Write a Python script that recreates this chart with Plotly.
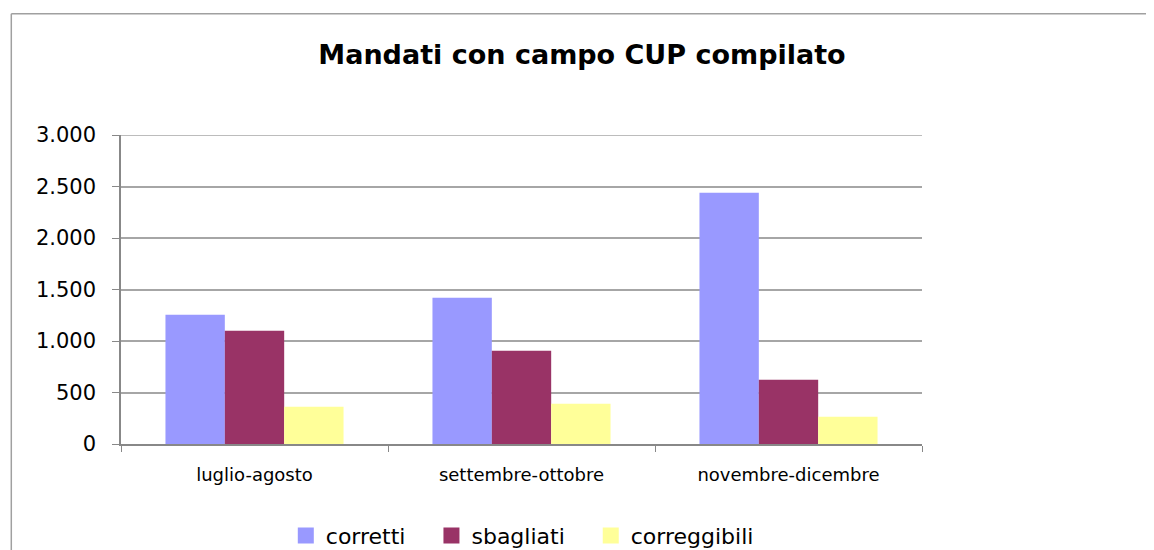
import plotly.graph_objects as go

categories = ["luglio-agosto", "settembre-ottobre", "novembre-dicembre"]
corretti = [1255, 1420, 2440]
sbagliati = [1100, 906, 624]
correggibili = [362, 391, 265]
y_ticks = [0, 500, 1000, 1500, 2000, 2500, 3000]
y_tick_labels = ["0", "500", "1.000", "1.500", "2.000", "2.500", "3.000"]

series_names = ["corretti", "sbagliati", "correggibili"]
series_values = [corretti, sbagliati, correggibili]
series_colors = ["#9999FF", "#993366", "#FFFF99"]

OFF = 8  # page body margin
W, H = 1154 - OFF, 550 - OFF
L, R, T, B = 120.7, 921.7, 135.3, 444.3  # target pixel positions in the window

FONT = "DejaVu Sans"
PAD = "\u00a0" * 3  # extra spacing between legend entries

fig = go.Figure()
for name, vals, col in zip(series_names, series_values, series_colors):
    fig.add_bar(name=name, x=categories, y=vals, marker_color=col, marker_line_width=0,
                showlegend=False)
# legend entries with larger square swatches
for i, (name, col) in enumerate(zip(series_names, series_colors)):
    label = name + (PAD if i < len(series_names) - 1 else "")
    fig.add_scatter(name=label, x=[None], y=[None], mode="markers",
                    marker=dict(symbol="square", size=16, color=col, line_width=0),
                    showlegend=True)

def px2x(px):
    return (px - L) / (R - L)

def py2y(py):
    return (B - py) / (B - T)

# outer chart frame (top and left edges visible)
fig.add_shape(type="line", xref="paper", yref="paper", x0=px2x(11), x1=px2x(1170),
              y0=py2y(14), y1=py2y(14), line=dict(color="#A0A0A0", width=1.5))
fig.add_shape(type="line", xref="paper", yref="paper", x0=px2x(11), x1=px2x(11),
              y0=py2y(14), y1=py2y(570), line=dict(color="#A0A0A0", width=1.5))
# top gridline at the axis maximum
fig.add_shape(type="line", xref="paper", yref="y", x0=0, x1=1, y0=y_ticks[-1], y1=y_ticks[-1],
              line=dict(color="#A6A6A6", width=1.5), layer="below")

fig.update_layout(
    width=W, height=H,
    margin=dict(l=L - OFF, r=1154 - R, t=T - OFF, b=550 - B, autoexpand=False),
    paper_bgcolor="white", plot_bgcolor="white",
    barmode="group", bargap=0.333, bargroupgap=0,
    font=dict(family=FONT, color="#000000"),
    title=dict(text="<b>Mandati con campo CUP compilato</b>", x=(582 - OFF) / W, xref="container",
               y=1 - (55 - OFF) / H, yref="container", xanchor="center", yanchor="middle",
               font=dict(size=27, family=FONT, color="#000000")),
    showlegend=True,
    legend=dict(orientation="h", x=px2x(522), xanchor="center", y=py2y(536), yanchor="middle",
                font=dict(size=22), itemwidth=30, traceorder="normal"),
    xaxis=dict(showgrid=False, showline=True, linecolor="#888888", linewidth=1.5,
               ticks="outside", tickson="boundaries", ticklen=6, tickcolor="#888888",
               ticklabelstandoff=14, tickfont=dict(size=18), fixedrange=True),
    yaxis=dict(range=[0, 3000], tickvals=y_ticks, ticktext=y_tick_labels,
               showgrid=True, gridcolor="#A6A6A6", gridwidth=1.5,
               showline=True, linecolor="#888888", linewidth=1.5,
               ticks="outside", ticklen=7, tickcolor="#888888", ticklabelstandoff=12,
               tickfont=dict(size=21), zeroline=False, fixedrange=True),
)

fig.write_html("out.html")
